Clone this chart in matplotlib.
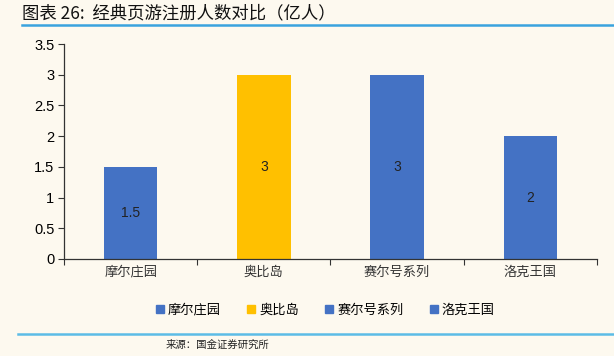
import matplotlib.pyplot as plt
import numpy as np

plt.rcParams['font.family'] = ['Noto Sans CJK SC', 'DejaVu Sans']

games = ["摩尔庄园", "奥比岛", "赛尔号系列", "洛克王国"]
users = [1.5, 3, 3, 2]
bar_colors = ["#4472C4", "#FFC000", "#4472C4", "#4472C4"]
value_labels = ["1.5", "3", "3", "2"]

bg = "#FDF9EF"
fig = plt.figure(figsize=(6.14, 3.56), dpi=100, facecolor=bg)
ax = fig.add_axes([0.1042, 0.2725, 0.8681, 0.6039], facecolor=bg)

x = np.arange(len(games))
bars = ax.bar(x, users, width=0.4, color=bar_colors, zorder=2)
for b, lab in zip(bars, value_labels):
    ax.text(b.get_x() + b.get_width() / 2, b.get_height() / 2, lab,
            ha="center", va="center", fontsize=10, family="Liberation Sans", color="#222222")

ax.set_xlim(-0.5, len(games) - 0.5)
ax.set_ylim(0, 3.5)
ax.set_yticks(np.arange(0, 3.51, 0.5))
ax.set_yticklabels(["0", "0.5", "1", "1.5", "2", "2.5", "3", "3.5"],
                   family="Liberation Sans", fontsize=10.5)
ax.set_xticks(np.arange(-0.5, len(games), 1.0))
ax.set_xticklabels([])
ax.set_xticks(x, minor=True)
ax.set_xticklabels(games, minor=True, fontsize=9.5, color="#333333")
ax.tick_params(axis="x", which="minor", length=0, pad=5)
ax.tick_params(axis="x", which="major", length=4, direction="out", color="#333333")
ax.tick_params(axis="y", length=4, direction="out", color="#333333", pad=3)
for s in ["top", "right"]:
    ax.spines[s].set_visible(False)
for s in ["left", "bottom"]:
    ax.spines[s].set_color("#333333")
    ax.spines[s].set_linewidth(0.9)

# legend
handles = [plt.Rectangle((0, 0), 1, 1, color=c) for c in bar_colors]
fig.legend(handles, games, loc="center", bbox_to_anchor=(0.53, 0.128), ncol=4,
           frameon=False, fontsize=9.5, handlelength=0.6, handleheight=0.6,
           handletextpad=0.3, columnspacing=2.0)

# title and source
fig.text(0.036, 0.962, "图表 26:  经典页游注册人数对比（亿人）", fontsize=12.5,
         style="italic", va="center", ha="left", color="#111111")
fig.add_artist(plt.Line2D([0.036, 1.0], [0.93, 0.93], color="#3AA3DE", lw=1.8))
fig.add_artist(plt.Line2D([0.03, 1.0], [0.062, 0.062], color="#5CBCE6", lw=1.8))
fig.text(0.27, 0.033, "来源：国金证券研究所", fontsize=7.5, va="center", ha="left", color="#222222")

fig.savefig("out.png", dpi=100, facecolor=bg)
